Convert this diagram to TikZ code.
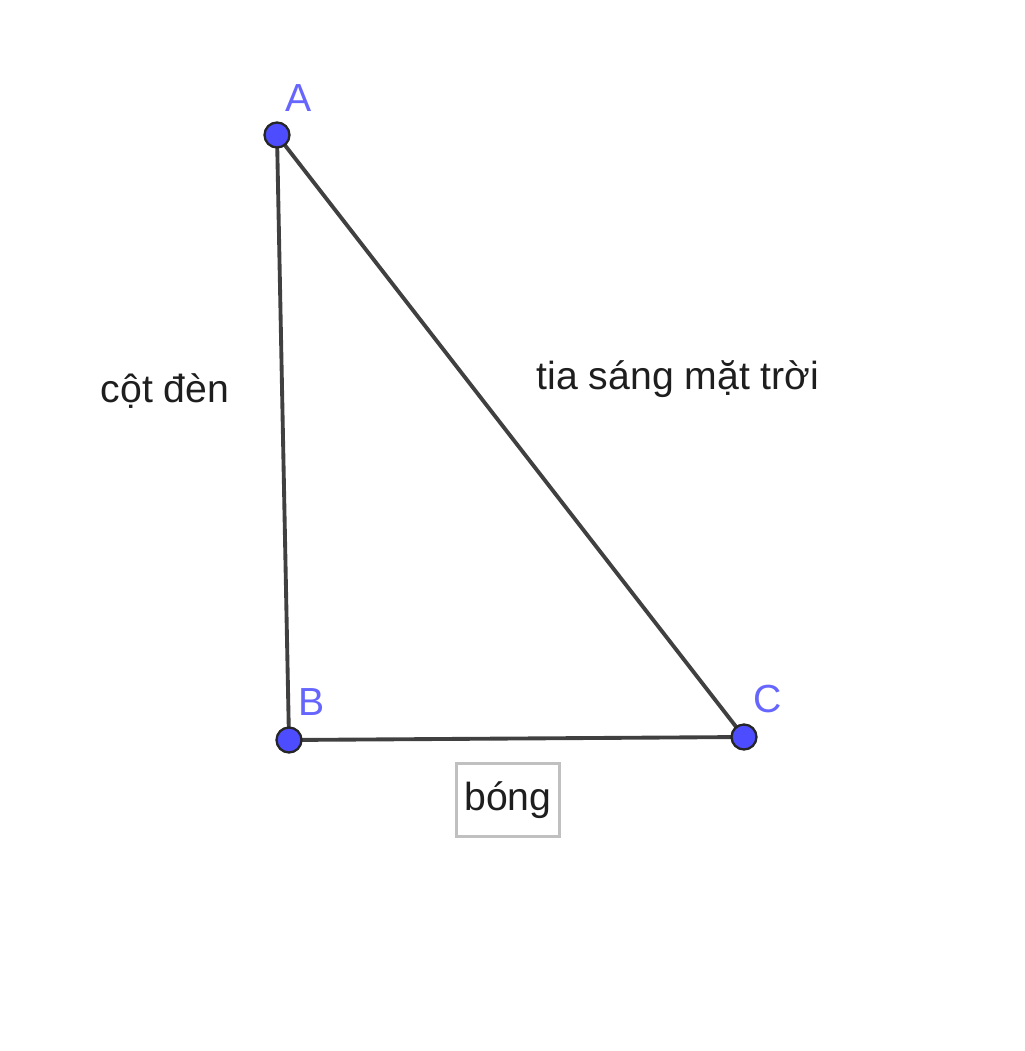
\documentclass[tikz,border=0pt]{standalone}
\usepackage{fontspec}
\setmainfont{Liberation Sans}
\usetikzlibrary{positioning}
\definecolor{ggblue}{RGB}{77,77,255}
\definecolor{gglabel}{RGB}{102,102,255}
\definecolor{ggline}{RGB}{64,64,64}
\definecolor{ggbox}{RGB}{192,192,192}
\definecolor{ggtext}{RGB}{30,30,30}
\tikzset{>=latex}

\begin{document}
\begin{tikzpicture}[x=0.02cm, y=-0.02cm]
                \tikzstyle{every node}=[font=\fontsize{22.3}{27}\selectfont, inner sep=0pt, text=ggtext]
                \tikzstyle{ggpt}=[circle, draw=black!85, fill=ggblue, line width=1.3pt, minimum size=0.5cm]
                \tikzstyle{side}=[ggline, line width=2.2pt]
                \useasboundingbox (0,0) rectangle (1024,1051);
                \coordinate (A) at (277,135);
                \coordinate (B) at (289,740);
                \coordinate (C) at (744,737);
                \draw[side] (A) -- (B);
                \draw[side] (B) -- (C);
                \draw[side] (C) -- (A);
                \node[ggpt] (pA) at (A) {};
                \node[ggpt] (pB) at (B) {};
                \node[ggpt] (pC) at (C) {};
                \node[text=gglabel] (lA) at (299,98) {A};
                \node[text=gglabel] (lB) at (312,702) {B};
                \node[text=gglabel] (lC) at (768,699) {C};

                \node (pole) at (165,391) {cột đèn};
                \node (ray) at (678,379) {tia sáng mặt trời};
                \node[draw=ggbox, line width=1.8pt, minimum width=2.05cm, minimum height=1.46cm]
                        (shadow) at (508,800) {bóng};
        \end{tikzpicture}
\end{document}
